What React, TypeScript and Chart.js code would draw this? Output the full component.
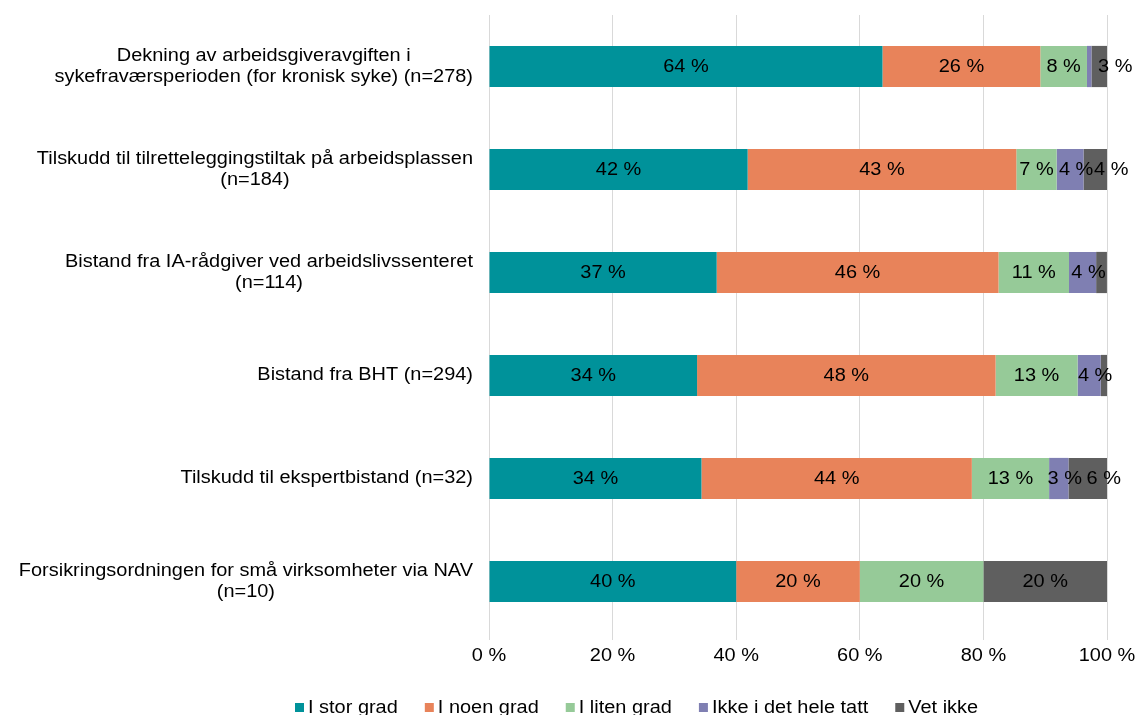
import React, { useEffect, useRef } from 'react';
import { Chart, registerables } from 'chart.js';

Chart.register(...registerables);

const categories: string[][] = [
  ['Dekning av arbeidsgiveravgiften i', 'sykefraværsperioden (for kronisk syke) (n=278)'],
  ['Tilskudd til tilretteleggingstiltak på arbeidsplassen', '(n=184)'],
  ['Bistand fra IA-rådgiver ved arbeidslivssenteret', '(n=114)'],
  ['Bistand fra BHT (n=294)'],
  ['Tilskudd til ekspertbistand (n=32)'],
  ['Forsikringsordningen for små virksomheter via NAV', '(n=10)'],
];
const seriesNames = ['I stor grad', 'I noen grad', 'I liten grad', 'Ikke i det hele tatt', 'Vet ikke'];
const iStorGrad = [63.67, 41.85, 36.84, 33.67, 34.38, 40];
const iNoenGrad = [25.54, 43.48, 45.61, 48.3, 43.75, 20];
const iLitenGrad = [7.55, 6.52, 11.4, 13.27, 12.5, 20];
const ikkeIDetHeleTatt = [0.72, 4.35, 4.39, 3.74, 3.13, 0];
const vetIkke = [2.52, 3.8, 1.75, 1.02, 6.25, 20];
const seriesColors = ['#00929A', '#E8835A', '#96CA98', '#7F7FB2', '#5F5F5F'];
const xTickStep = 20;

const FONT_FAMILY = "'Liberation Sans', Arial, sans-serif";
const FONT_SIZE = 17.5;
const FONT = `${FONT_SIZE}px ${FONT_FAMILY}`;
const SX = 1.14; // horizontal stretch of the reference text

function drawText(ctx: CanvasRenderingContext2D, text: string, x: number, y: number, align: CanvasTextAlign) {
  ctx.save();
  ctx.translate(x, y);
  ctx.scale(SX, 1);
  ctx.textAlign = align;
  ctx.fillText(text, 0, 0);
  ctx.restore();
}
function textWidth(ctx: CanvasRenderingContext2D, text: string) {
  return ctx.measureText(text).width * SX;
}

const textPlugin = {
  id: 'texts',
  afterDraw(chart: any) {
    const ctx: CanvasRenderingContext2D = chart.ctx;
    ctx.save();
    ctx.font = FONT;
    ctx.fillStyle = '#000';
    ctx.textBaseline = 'middle';
    // category labels
    const y = chart.scales.y;
    const right = chart.chartArea.left - 16;
    const lh = 21;
    categories.forEach((lines, i) => {
      const cy = y.getPixelForTick(i);
      const w = Math.max(...lines.map((l) => textWidth(ctx, l)));
      const cx = right - w / 2;
      lines.forEach((l, j) => drawText(ctx, l, cx, cy + (j - (lines.length - 1) / 2) * lh, 'center'));
    });
    // x tick labels
    const x = chart.scales.x;
    x.ticks.forEach((t: any) => {
      drawText(ctx, `${t.value} %`, x.getPixelForValue(t.value), chart.chartArea.bottom + 23, 'center');
    });
    // legend
    let lx = 295;
    const ly = 708;
    chart.data.datasets.forEach((ds: any) => {
      ctx.fillStyle = ds.backgroundColor;
      ctx.fillRect(lx, ly - 5, 9, 9);
      ctx.fillStyle = '#000';
      drawText(ctx, ds.label, lx + 13, ly, 'left');
      lx += 13 + textWidth(ctx, ds.label) + 27;
    });
    ctx.restore();
  },
};

const dataLabelPlugin = {
  id: 'dataLabels',
  afterDatasetsDraw(chart: any) {
    const ctx: CanvasRenderingContext2D = chart.ctx;
    ctx.save();
    ctx.font = FONT;
    ctx.fillStyle = '#000';
    ctx.textBaseline = 'middle';
    chart.data.datasets.forEach((ds: any, di: number) => {
      const meta = chart.getDatasetMeta(di);
      meta.data.forEach((bar: any, i: number) => {
        const v = ds.data[i];
        if (v < 2) return;
        const w = Math.abs(bar.x - bar.base);
        let cx = (bar.x + bar.base) / 2;
        if (w < 45) {
          if (di === 3) cx += 6;
          if (di === 4) cx += 16;
        }
        drawText(ctx, `${Math.round(v)} %`, cx, bar.y + 1, 'center');
      });
    });
    ctx.restore();
  },
};

export default function App() {
  const ref = useRef<HTMLCanvasElement | null>(null);
  useEffect(() => {
    if (!ref.current) return;
    const values = [iStorGrad, iNoenGrad, iLitenGrad, ikkeIDetHeleTatt, vetIkke];
    const chart = new Chart(ref.current, {
      type: 'bar',
      data: {
        labels: categories,
        datasets: seriesNames.map((name, i) => ({
          label: name,
          data: values[i],
          backgroundColor: seriesColors[i],
          borderWidth: 0,
          barPercentage: 0.8,
          categoryPercentage: 0.5,
        })),
      },
      options: {
        indexAxis: 'y',
        animation: false,
        responsive: true,
        maintainAspectRatio: false,
        layout: { padding: { top: 15, right: 30, bottom: 42, left: 0 } },
        plugins: {
          legend: { display: false },
          tooltip: { enabled: false },
        },
        scales: {
          x: {
            stacked: true,
            min: 0,
            max: 100,
            ticks: {
              stepSize: xTickStep,
              color: 'rgba(0,0,0,0)',
              font: { family: FONT_FAMILY, size: FONT_SIZE },
              padding: 4,
              callback: (v: any) => `${v} %`,
            },
            grid: { color: '#d9d9d9', tickLength: 7, drawTicks: true },
            border: { display: false },
            afterFit: (s: any) => {
              s.height = 40;
            },
          },
          y: {
            stacked: true,
            ticks: { display: false },
            grid: { display: false },
            border: { display: false },
            afterFit: (s: any) => {
              s.width = 489;
            },
          },
        },
      },
      plugins: [dataLabelPlugin, textPlugin],
    });
    return () => chart.destroy();
  }, []);
  return (
    <div style={{ position: 'fixed', left: 0, top: 0, width: 1137, height: 715, background: '#fff' }}>
      <canvas ref={ref} />
    </div>
  );
}
